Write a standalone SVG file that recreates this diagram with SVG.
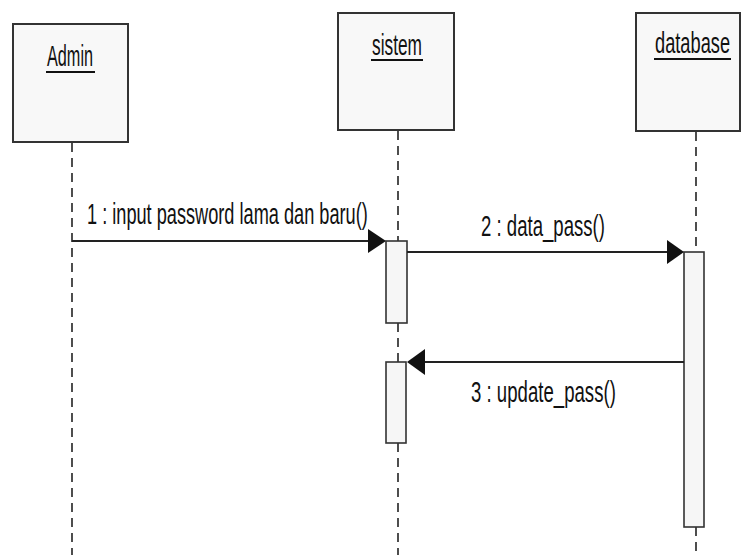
<svg xmlns="http://www.w3.org/2000/svg" width="741" height="555" viewBox="0 0 741 555">
<defs>
<style>
.box{fill:#f8f8f8;stroke:#333;stroke-width:2}
.act{fill:#f6f6f6;stroke:#333;stroke-width:1.6}
.life{stroke:#222;stroke-width:1.6;stroke-dasharray:9 6;fill:none}
.msg{stroke:#222;stroke-width:2;fill:none}
.lbl{font-family:"Liberation Sans",Arial,sans-serif;font-size:29px;fill:#111}
.ul{stroke:#111;stroke-width:2}
.head{fill:#111}
</style>
</defs>
<rect width="741" height="555" fill="#fff"/>
<g id="lifelines">
<line class="life" x1="72" y1="143" x2="72" y2="555"/>
<line class="life" x1="398" y1="131" x2="398" y2="241"/>
<line class="life" x1="398" y1="323" x2="398" y2="362"/>
<line class="life" x1="398" y1="443" x2="398" y2="555"/>
<line class="life" x1="696" y1="132" x2="696" y2="252"/>
<line class="life" x1="696" y1="527" x2="696" y2="555"/>
</g>
<g id="node-admin">
<rect class="box" x="13" y="24" width="115" height="118"/>
<text class="lbl" transform="matrix(0.56,0,0,1,47,66)">Admin</text>
<line class="ul" x1="46" y1="72" x2="95" y2="72"/>
</g>
<g id="node-sistem">
<rect class="box" x="338" y="13" width="116" height="117"/>
<text class="lbl" transform="matrix(0.597,0,0,1,372,55)">sistem</text>
<line class="ul" x1="371" y1="60" x2="423" y2="60"/>
</g>
<g id="node-database">
<rect class="box" x="636" y="13" width="104" height="118"/>
<text class="lbl" transform="matrix(0.629,0,0,1,655,53)">database</text>
<line class="ul" x1="654" y1="59" x2="731" y2="59"/>
</g>
<g id="activations">
<rect class="act" x="386" y="241" width="21" height="82"/>
<rect class="act" x="386" y="362" width="20" height="81"/>
<rect class="act" x="684" y="252" width="20" height="275"/>
</g>
<g id="connectors">
<line class="msg" x1="72" y1="241" x2="370" y2="241"/>
<polygon class="head" points="368,229 386,241 368,253"/>
<text class="lbl" transform="matrix(0.627,0,0,1,87,224)">1 : input password lama dan baru()</text>
<line class="msg" x1="407" y1="252" x2="669" y2="252"/>
<polygon class="head" points="667,240 684,252 667,264"/>
<text class="lbl" transform="matrix(0.641,0,0,1,481,236)">2 : data_pass()</text>
<line class="msg" x1="684" y1="362" x2="423" y2="362"/>
<polygon class="head" points="425,349 407,362 425,375"/>
<text class="lbl" transform="matrix(0.642,0,0,1,471,402)">3 : update_pass()</text>
</g>
</svg>
